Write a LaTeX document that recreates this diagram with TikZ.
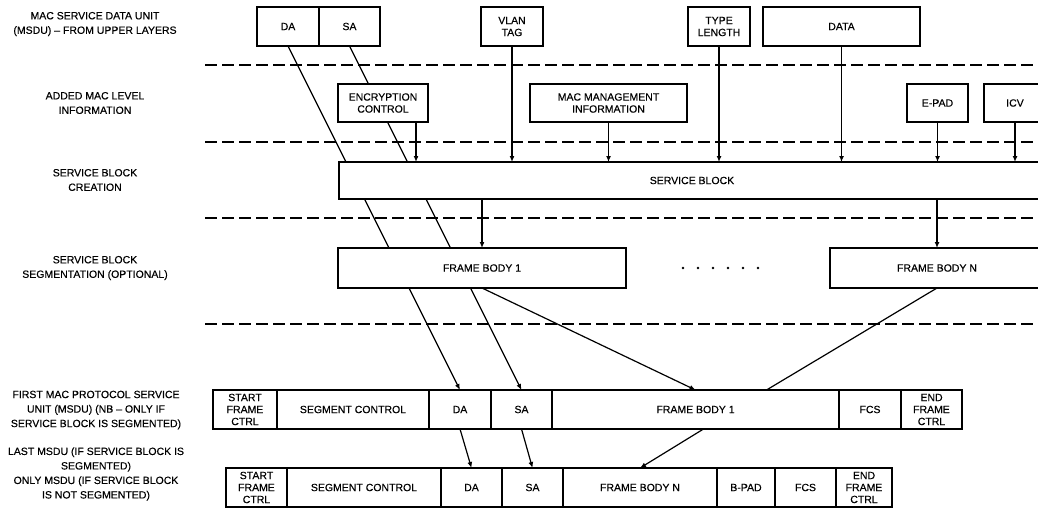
\documentclass[tikz,border=0pt]{standalone}
\usepackage{fontspec}
\setmainfont{Liberation Sans}[FakeBold=0.3]
\usetikzlibrary{positioning,arrows.meta}
\tikzset{
	x=1pt, y=-1pt, % one unit per pixel of the sketch, y going down
	>={Latex[length=6pt,width=5pt]}, % small filled arrow heads
	node distance=0pt, % fields of a frame sit side by side
	every node/.style={align=center, font=\fontsize{10.5}{12}\selectfont},
	field/.style={draw, line width=1.3pt, fill=white, inner sep=0pt, outer sep=0pt, minimum height=39pt}, % one box
	stage/.style={font=\fontsize{10.5}{14.5}\selectfont}, % row titles on the left
	layer/.style={line width=1.3pt, dash pattern=on 12pt off 5pt}, % dashed separators
	flow/.style={->, line width=1.2pt},
	link/.style={line width=1.2pt},
}

\begin{document}
\begin{tikzpicture}
	\useasboundingbox (0,0) rectangle (1038,511);

	% row titles
	\node[stage] (t1) at (95,24) {MAC SERVICE DATA UNIT\\(MSDU) – FROM UPPER LAYERS};
	\node[stage] (t2) at (95,103) {ADDED MAC LEVEL\\INFORMATION};
	\node[stage] (t3) at (95,180) {SERVICE BLOCK\\CREATION};
	\node[stage] (t4) at (95,268) {SERVICE BLOCK\\SEGMENTATION (OPTIONAL)};
	\node[stage] (t5) at (96,410) {FIRST MAC PROTOCOL SERVICE\\UNIT (MSDU) (NB – ONLY IF\\SERVICE BLOCK IS SEGMENTED)};
	\node[stage] (t6) at (96,474) {LAST MSDU (IF SERVICE BLOCK IS\\SEGMENTED)\\ONLY MSDU (IF SERVICE BLOCK\\IS NOT SEGMENTED)};

	\foreach \y in {65,142,218,324}
		\draw[layer] (205,\y) -- (1045,\y);

	% msdu from upper layers
	\node[field, minimum width=62pt] (da0) at (288,26.5) {DA};
	\node[field, minimum width=61pt, right=of da0] (sa0) {SA};
	\node[field, minimum width=62pt] (vlan) at (512,26.5) {VLAN\\TAG};
	\node[field, minimum width=62pt] (tl) at (719,26.5) {TYPE\\LENGTH};
	\node[field, minimum width=157pt] (data) at (841.5,26.5) {DATA};

	% first mpdu
	\node[field, minimum width=64pt] (sfc1) at (245,409.5) {START\\FRAME\\CTRL};
	\node[field, minimum width=152pt, right=of sfc1] (seg1) {SEGMENT CONTROL};
	\node[field, minimum width=62pt, right=of seg1] (da1) {DA};
	\node[field, minimum width=61pt, right=of da1] (sa1) {SA};
	\node[field, minimum width=287pt, right=of sa1] (body1) {FRAME BODY 1};
	\node[field, minimum width=62pt, right=of body1] (fcs1) {FCS};
	\node[field, minimum width=61pt, right=of fcs1] (end1) {END\\FRAME\\CTRL};

	% last mpdu
	\node[field, minimum width=61pt] (sfc2) at (256.5,487.5) {START\\FRAME\\CTRL};
	\node[field, minimum width=154pt, right=of sfc2] (seg2) {SEGMENT CONTROL};
	\node[field, minimum width=61pt, right=of seg2] (da2) {DA};
	\node[field, minimum width=61pt, right=of da2] (sa2) {SA};
	\node[field, minimum width=154pt, right=of sa2] (bodyn2) {FRAME BODY N};
	\node[field, minimum width=58pt, right=of bodyn2] (bpad) {B-PAD};
	\node[field, minimum width=61pt, right=of bpad] (fcs2) {FCS};
	\node[field, minimum width=56pt, right=of fcs2] (end2) {END\\FRAME\\CTRL};

	% addresses run behind the boxes below
	\draw[flow] (da0.south) -- (da1.north);
	\draw[flow] (sa0.south) -- (sa1.north);

	% added mac level information
	\node[field, minimum width=90pt, minimum height=38pt] (enc) at (383,103) {ENCRYPTION\\CONTROL};
	\node[field, minimum width=157pt, minimum height=38pt] (mgmt) at (608.5,103) {MAC MANAGEMENT\\INFORMATION};
	\node[field, minimum width=61pt, minimum height=38pt] (epad) at (937.5,103) {E-PAD};
	\node[field, minimum width=62pt, minimum height=38pt] (icv) at (1015,103) {ICV};

	\node[field, minimum width=706pt, minimum height=37pt] (sblock) at (692,180.5) {SERVICE BLOCK};

	\node[field, minimum width=288pt, minimum height=40pt] (fb1) at (482,268) {FRAME BODY 1};
	\node[field, minimum width=214pt, minimum height=40pt] (fbn) at (937,268) {FRAME BODY N};
	\foreach \i in {0,...,5}
		\fill (683+15*\i,268) circle (1.4pt);

	\draw[flow] ([xshift=33pt]enc.south) -- ([xshift=33pt]enc.south |- sblock.north);
	\foreach \src in {vlan,mgmt,tl,data,epad,icv}
		\draw[flow] (\src.south) -- (\src.south |- sblock.north);
	\foreach \dst in {fb1,fbn}
		\draw[flow] (\dst.north |- sblock.south) -- (\dst.north);

	\draw[flow] (fb1.south) -- (body1.north);
	\draw[link] (fbn.south) -- ([xshift=71pt]body1.north);
	\draw[flow] (da1.south) -- (da2.north);
	\draw[flow] (sa1.south) -- (sa2.north);
	\draw[flow] ([xshift=8pt]body1.south) -- (bodyn2.north);
\end{tikzpicture}
\end{document}
